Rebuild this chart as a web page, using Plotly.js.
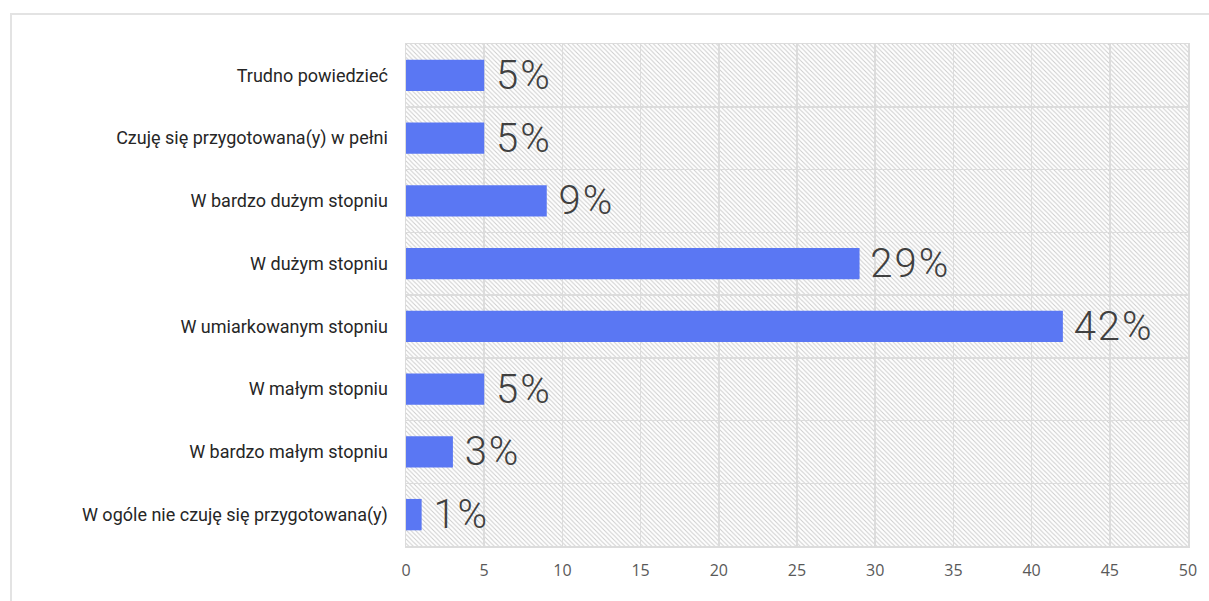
<!DOCTYPE html>
<html>
<head>
<meta charset="utf-8">
<script src="https://cdn.plot.ly/plotly-3.0.1.min.js"></script>
<style>
  html, body { margin: 0; padding: 0; background: #fff; overflow: hidden; }
  #wrap { position: relative; width: 1209px; height: 601px; }
  #chart { position: absolute; left: 0; top: 0; width: 1209px; height: 601px; }
  #frame { position: absolute; left: 10px; top: 13px; width: 1300px; height: 700px;
           border: 2px solid #e3e3e3; box-sizing: border-box; pointer-events: none; }
  #chart text.bartext { letter-spacing: 2px; }
</style>
</head>
<body>
<div id="wrap">
  <div id="frame"></div>
  <div id="chart"></div>
</div>
<script>
const categories = [
  "Trudno powiedzieć",
  "Czuję się przygotowana(y) w pełni",
  "W bardzo dużym stopniu",
  "W dużym stopniu",
  "W umiarkowanym stopniu",
  "W małym stopniu",
  "W bardzo małym stopniu",
  "W ogóle nie czuję się przygotowana(y)"
];
const values = [5, 5, 9, 29, 42, 5, 3, 1];
const xTicks = [0, 5, 10, 15, 20, 25, 30, 35, 40, 45, 50];

const hatch = 'data:image/svg+xml;utf8,' + encodeURIComponent(
  '<svg xmlns="http://www.w3.org/2000/svg" width="782" height="502">' +
  '<defs><pattern id="h" patternUnits="userSpaceOnUse" width="4.5" height="4.5">' +
  '<path d="M-1,-1 L5.5,5.5 M-1,3.5 L1,5.5 M3.5,-1 L5.5,1" stroke="#cccccc" stroke-width="1"/>' +
  '</pattern></defs><rect width="782" height="502" fill="url(#h)"/></svg>');

const trace = {
  type: 'bar',
  orientation: 'h',
  x: values,
  y: categories,
  marker: { color: '#5a77f3' },
  width: 0.5,
  texttemplate: ' %{x}%',
  textposition: 'outside',
  constraintext: 'none',
  cliponaxis: false,
  textfont: { family: 'Roboto', size: 40, color: '#404040', weight: 300 },
  hoverinfo: 'none'
};

const layout = {
  width: 1209, height: 601,
  margin: { l: 406, r: 21, t: 44, b: 55, pad: 0 },
  paper_bgcolor: 'rgba(0,0,0,0)',
  plot_bgcolor: '#ffffff',
  showlegend: false,
  xaxis: {
    range: [0, 50],
    tickvals: xTicks,
    ticktext: xTicks.map(String),
    showgrid: true, gridcolor: '#dcdcdc', gridwidth: 1.5,
    zeroline: false,
    showline: true, linecolor: '#dcdcdc', linewidth: 1.5, mirror: true,
    ticks: '',
    ticklabelstandoff: 9,
    tickfont: { family: 'Open Sans', size: 16, color: '#595959' }
  },
  yaxis: {
    type: 'category',
    autorange: 'reversed',
    tickson: 'boundaries',
    showgrid: true, gridcolor: '#dcdcdc', gridwidth: 1.5,
    showline: true, linecolor: '#dcdcdc', linewidth: 1.5, mirror: true,
    ticks: '',
    ticklabelstandoff: 13,
    tickfont: { family: 'Roboto', size: 18, color: '#262626', weight: 400 }
  },
  images: [{
    source: hatch, xref: 'paper', yref: 'paper', x: 0, y: 1,
    sizex: 1, sizey: 1, xanchor: 'left', yanchor: 'top',
    sizing: 'stretch', layer: 'below'
  }]
};

Plotly.newPlot('chart', [trace], layout, { staticPlot: true, displayModeBar: false });
</script>
</body>
</html>
